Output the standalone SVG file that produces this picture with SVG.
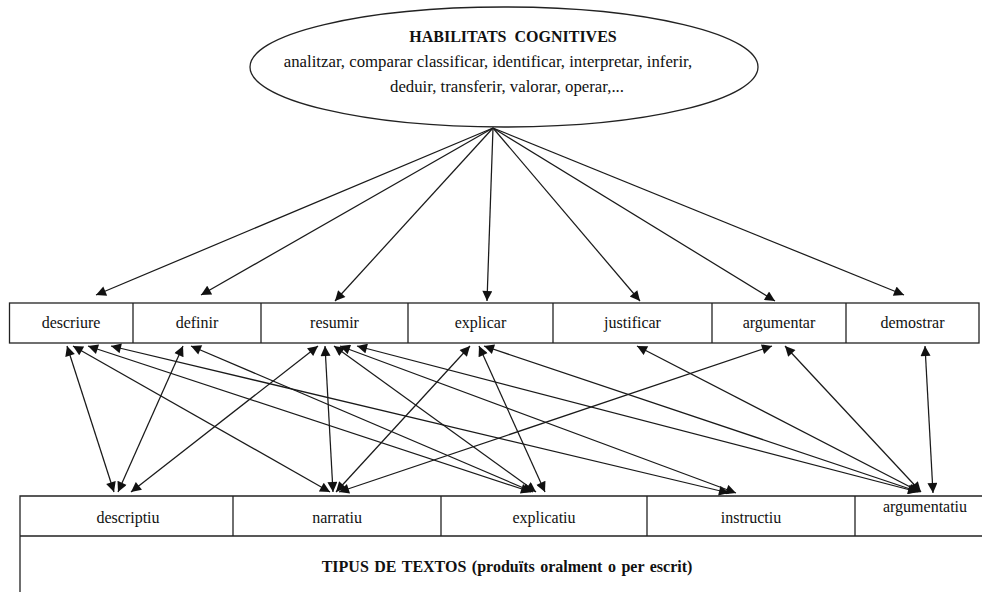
<svg xmlns="http://www.w3.org/2000/svg" width="982" height="592" viewBox="0 0 982 592">
  <style>
    .frame { fill: #fff; stroke: #222; stroke-width: 1.3; }
    .rule { fill: none; stroke: #222; stroke-width: 1.3; }
    .lbl { font-family: "Liberation Serif", "Times New Roman", "DejaVu Serif", serif; font-size: 16px; fill: #111; text-anchor: middle; }
    .big { font-size: 16.8px; }
    .bold { font-weight: bold; }
    .link { fill: none; stroke: #1a1a1a; stroke-width: 1.25; }
  </style>
  <defs>
    <marker id="head" viewBox="0 0 10 10" refX="10" refY="5" markerUnits="userSpaceOnUse" markerWidth="12" markerHeight="10" orient="auto-start-reverse">
      <path d="M0,0 L10,5 L0,10 z" fill="#111"/>
    </marker>
  </defs>
  <rect width="982" height="592" fill="#fff"/>

  <!-- central cognitive-skills ellipse -->
  <g id="habilitats">
    <ellipse class="frame" cx="504" cy="67" rx="254" ry="60"/>
    <text class="lbl bold" x="513" y="42" xml:space="preserve">HABILITATS  COGNITIVES</text>
    <text class="lbl big" x="488" y="67">analitzar, comparar classificar, identificar, interpretar, inferir,</text>
    <text class="lbl big" x="507" y="92">deduir, transferir, valorar, operar,...</text>
  </g>

  <!-- row of discursive skills -->
  <g id="habilitats-discursives">
    <rect class="frame" x="9.5" y="303" width="969.5" height="40"/>
    <g id="descriure"><text class="lbl" x="71" y="328">descriure</text></g>
    <line class="rule" x1="133" y1="303" x2="133" y2="343"/>
    <g id="definir"><text class="lbl" x="197" y="328">definir</text></g>
    <line class="rule" x1="261" y1="303" x2="261" y2="343"/>
    <g id="resumir"><text class="lbl" x="334.5" y="328">resumir</text></g>
    <line class="rule" x1="408" y1="303" x2="408" y2="343"/>
    <g id="explicar"><text class="lbl" x="480.5" y="328">explicar</text></g>
    <line class="rule" x1="553" y1="303" x2="553" y2="343"/>
    <g id="justificar"><text class="lbl" x="632.5" y="328">justificar</text></g>
    <line class="rule" x1="712" y1="303" x2="712" y2="343"/>
    <g id="argumentar"><text class="lbl" x="779" y="328">argumentar</text></g>
    <line class="rule" x1="846" y1="303" x2="846" y2="343"/>
    <g id="demostrar"><text class="lbl" x="912.5" y="328">demostrar</text></g>
  </g>

  <!-- text types table, open at the right and bottom -->
  <g id="tipus-de-textos">
    <path class="rule" d="M982,496 H20 V592 M20,536 H982"/>
    <line class="rule" x1="233" y1="496" x2="233" y2="536"/>
    <line class="rule" x1="441" y1="496" x2="441" y2="536"/>
    <line class="rule" x1="647" y1="496" x2="647" y2="536"/>
    <line class="rule" x1="855" y1="496" x2="855" y2="536"/>
    <g id="descriptiu"><text class="lbl" x="128" y="523">descriptiu</text></g>
    <g id="narratiu"><text class="lbl" x="337" y="523">narratiu</text></g>
    <g id="explicatiu"><text class="lbl" x="544" y="523">explicatiu</text></g>
    <g id="instructiu"><text class="lbl" x="751" y="523">instructiu</text></g>
    <g id="argumentatiu"><text class="lbl" x="925" y="512">argumentatiu</text></g>
    <text class="lbl bold" x="507" y="572" word-spacing="1.5">TIPUS DE TEXTOS (produïts oralment o per escrit)</text>
  </g>

  <!-- connectors -->
  <g id="connectors">
    <!-- from the ellipse to each skill -->
    <g marker-end="url(#head)">
      <line class="link" x1="493" y1="128" x2="96" y2="295"/>
      <line class="link" x1="493" y1="128" x2="201" y2="295"/>
      <line class="link" x1="493" y1="128" x2="335" y2="301"/>
      <line class="link" x1="493" y1="128" x2="487" y2="301"/>
      <line class="link" x1="493" y1="128" x2="640" y2="301"/>
      <line class="link" x1="493" y1="128" x2="775" y2="301"/>
      <line class="link" x1="493" y1="128" x2="904" y2="295"/>
    </g>
    <!-- skills to text types, both ways -->
    <g marker-start="url(#head)" marker-end="url(#head)">
      <line class="link" x1="67" y1="346" x2="114" y2="492"/>
      <line class="link" x1="73" y1="346" x2="330" y2="492"/>
      <line class="link" x1="88" y1="346" x2="531" y2="492"/>
      <line class="link" x1="111" y1="346" x2="729" y2="493"/>
      <line class="link" x1="183" y1="346" x2="118" y2="492"/>
      <line class="link" x1="191" y1="346" x2="533" y2="492"/>
      <line class="link" x1="318" y1="346" x2="131" y2="492"/>
      <line class="link" x1="325" y1="346" x2="333" y2="492"/>
      <line class="link" x1="334" y1="346" x2="536" y2="492"/>
      <line class="link" x1="340" y1="346" x2="736" y2="493"/>
      <line class="link" x1="357" y1="346" x2="918" y2="492"/>
      <line class="link" x1="470" y1="346" x2="336" y2="492"/>
      <line class="link" x1="479" y1="346" x2="545" y2="492"/>
      <line class="link" x1="484" y1="346" x2="919" y2="492"/>
      <line class="link" x1="637" y1="346" x2="920" y2="492"/>
      <line class="link" x1="772" y1="346" x2="339" y2="492"/>
      <line class="link" x1="785" y1="346" x2="921" y2="492"/>
      <line class="link" x1="925" y1="346" x2="933" y2="493"/>
    </g>
  </g>
</svg>
